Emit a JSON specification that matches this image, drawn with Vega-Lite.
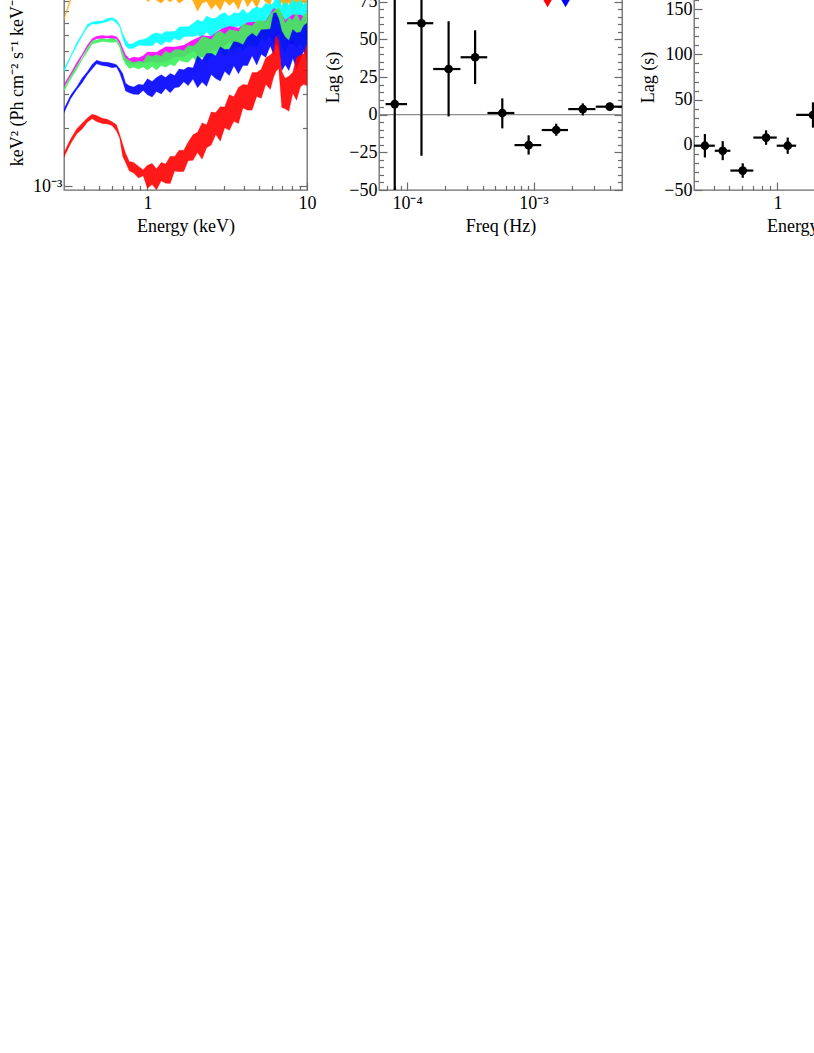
{
  "$schema": "https://vega.github.io/schema/vega-lite/v6.json",
  "background": "white",
  "padding": {"left": 7, "top": -38, "right": -125, "bottom": 5},
  "spacing": 72,
  "bounds": "flush",
  "config": {
    "font": "Liberation Serif",
    "view": {"stroke": "#6b6b6b", "strokeWidth": 1.3},
    "axis": {"domain": false, "grid": false, "labelFont": "Liberation Serif", "titleFont": "Liberation Serif", "labelFontSize": 18, "titleFontSize": 18, "titleFontWeight": "normal", "labelColor": "#000000", "titleColor": "#000000", "tickColor": "#6b6b6b", "tickWidth": 1.2}
  },
  "datasets": {
    "orange": [
      {"e":0.30,"lo":0.00721,"hi":0.00737},{"e":0.33,"lo":0.00903,"hi":0.00938},{"e":0.36,"lo":0.01065,"hi":0.01093},{"e":0.39,"lo":0.01196,"hi":0.01242},{"e":0.42,"lo":0.01317,"hi":0.01351},{"e":0.45,"lo":0.01378,"hi":0.01414},{"e":0.48,"lo":0.01411,"hi":0.01469},{"e":0.52,"lo":0.01442,"hi":0.01480},{"e":0.56,"lo":0.01453,"hi":0.01498},{"e":0.60,"lo":0.01485,"hi":0.01530},{"e":0.64,"lo":0.01431,"hi":0.01483},{"e":0.67,"lo":0.01341,"hi":0.01374},{"e":0.70,"lo":0.01191,"hi":0.01274},{"e":0.73,"lo":0.01102,"hi":0.01165},{"e":0.77,"lo":0.01018,"hi":0.01085},{"e":0.82,"lo":0.01015,"hi":0.01077},{"e":0.88,"lo":0.00993,"hi":0.01059},{"e":0.94,"lo":0.01009,"hi":0.01051},
      {"e":1.00,"lo":0.00898,"hi":0.01142},{"e":1.07,"lo":0.00925,"hi":0.01107},{"e":1.14,"lo":0.00913,"hi":0.01083},{"e":1.22,"lo":0.00880,"hi":0.01108},{"e":1.30,"lo":0.00928,"hi":0.01096},{"e":1.39,"lo":0.00892,"hi":0.01060},{"e":1.48,"lo":0.00940,"hi":0.01120},{"e":1.58,"lo":0.00880,"hi":0.01084},{"e":1.69,"lo":0.00916,"hi":0.01072},{"e":1.80,"lo":0.00952,"hi":0.01108},{"e":1.93,"lo":0.00904,"hi":0.01120},
      {"e":2.06,"lo":0.00800,"hi":0.01100},{"e":2.20,"lo":0.00880,"hi":0.01160},{"e":2.35,"lo":0.00900,"hi":0.01120},{"e":2.51,"lo":0.00820,"hi":0.01200},{"e":2.68,"lo":0.00869,"hi":0.01091},{"e":2.86,"lo":0.00808,"hi":0.01172},{"e":3.05,"lo":0.00909,"hi":0.01192},{"e":3.26,"lo":0.00857,"hi":0.01142},{"e":3.48,"lo":0.00898,"hi":0.01224},{"e":3.72,"lo":0.00816,"hi":0.01163},{"e":3.97,"lo":0.00948,"hi":0.01133},{"e":4.24,"lo":0.00845,"hi":0.01195},{"e":4.53,"lo":0.00915,"hi":0.01248},{"e":4.84,"lo":0.00832,"hi":0.01144},{"e":5.17,"lo":0.00945,"hi":0.01239},{"e":5.52,"lo":0.00890,"hi":0.01187},{"e":5.89,"lo":0.00864,"hi":0.01296},
      {"e":6.16,"lo":0.01004,"hi":0.01324},{"e":6.40,"lo":0.01006,"hi":0.01518},{"e":6.65,"lo":0.00844,"hi":0.01288},{"e":6.95,"lo":0.00895,"hi":0.01280},{"e":7.30,"lo":0.00789,"hi":0.01298},{"e":7.70,"lo":0.00896,"hi":0.01191},{"e":8.15,"lo":0.00762,"hi":0.01271},{"e":8.60,"lo":0.00843,"hi":0.01164},{"e":9.10,"lo":0.00816,"hi":0.01298},{"e":9.55,"lo":0.00896,"hi":0.01217},{"e":10.0,"lo":0.00762,"hi":0.01244}
    ],
    "cyan": [
      {"e":0.30,"lo":0.003899,"hi":0.004049},{"e":0.33,"lo":0.004604,"hi":0.004706},{"e":0.36,"lo":0.005292,"hi":0.005497},{"e":0.39,"lo":0.005965,"hi":0.006111},{"e":0.42,"lo":0.006593,"hi":0.006834},{"e":0.45,"lo":0.006881,"hi":0.007047},{"e":0.48,"lo":0.006860,"hi":0.007112},{"e":0.52,"lo":0.006965,"hi":0.007121},{"e":0.56,"lo":0.007070,"hi":0.007344},{"e":0.60,"lo":0.007227,"hi":0.007418},{"e":0.64,"lo":0.006958,"hi":0.007228},{"e":0.67,"lo":0.006633,"hi":0.006807},{"e":0.70,"lo":0.005808,"hi":0.006120},{"e":0.73,"lo":0.005280,"hi":0.005720},{"e":0.77,"lo":0.005124,"hi":0.005397},{"e":0.82,"lo":0.005157,"hi":0.005478},{"e":0.88,"lo":0.005341,"hi":0.005668},{"e":0.94,"lo":0.005328,"hi":0.005728},
      {"e":1.00,"lo":0.005305,"hi":0.005845},{"e":1.07,"lo":0.005316,"hi":0.006089},{"e":1.14,"lo":0.005556,"hi":0.006199},{"e":1.22,"lo":0.005336,"hi":0.006078},{"e":1.30,"lo":0.005588,"hi":0.006293},{"e":1.39,"lo":0.005522,"hi":0.006283},{"e":1.48,"lo":0.005808,"hi":0.006292},{"e":1.58,"lo":0.005658,"hi":0.006642},{"e":1.69,"lo":0.005900,"hi":0.006650},{"e":1.80,"lo":0.005944,"hi":0.006655},{"e":1.93,"lo":0.005934,"hi":0.006914},
      {"e":2.06,"lo":0.006039,"hi":0.007231},{"e":2.20,"lo":0.005845,"hi":0.007050},{"e":2.35,"lo":0.006265,"hi":0.007571},{"e":2.51,"lo":0.005881,"hi":0.007375},{"e":2.68,"lo":0.006208,"hi":0.007363},{"e":2.86,"lo":0.006541,"hi":0.007707},{"e":3.05,"lo":0.006245,"hi":0.007876},{"e":3.26,"lo":0.006134,"hi":0.007508},{"e":3.48,"lo":0.006565,"hi":0.007860},{"e":3.72,"lo":0.006732,"hi":0.007762},{"e":3.97,"lo":0.006428,"hi":0.008226},{"e":4.24,"lo":0.006690,"hi":0.007743},{"e":4.53,"lo":0.006482,"hi":0.008225},{"e":4.84,"lo":0.007059,"hi":0.008433},{"e":5.17,"lo":0.006863,"hi":0.008257},{"e":5.52,"lo":0.007173,"hi":0.008791},{"e":5.89,"lo":0.006890,"hi":0.008641},
      {"e":6.16,"lo":0.007517,"hi":0.008829},{"e":6.40,"lo":0.007123,"hi":0.009724},{"e":6.65,"lo":0.007314,"hi":0.009676},{"e":6.95,"lo":0.006396,"hi":0.008502},{"e":7.30,"lo":0.007007,"hi":0.008947},{"e":7.70,"lo":0.006634,"hi":0.008587},{"e":8.15,"lo":0.006396,"hi":0.009204},{"e":8.60,"lo":0.007285,"hi":0.008839},{"e":9.10,"lo":0.006905,"hi":0.009180},{"e":9.55,"lo":0.006494,"hi":0.008633},{"e":10.0,"lo":0.007092,"hi":0.009095}
    ],
    "magenta": [
      {"e":0.30,"lo":0.003267,"hi":0.003359},{"e":0.33,"lo":0.003710,"hi":0.003815},{"e":0.36,"lo":0.004175,"hi":0.004345},{"e":0.39,"lo":0.004692,"hi":0.004796},{"e":0.42,"lo":0.005177,"hi":0.005345},{"e":0.45,"lo":0.005606,"hi":0.005777},{"e":0.48,"lo":0.005780,"hi":0.005944},{"e":0.52,"lo":0.005784,"hi":0.006008},{"e":0.56,"lo":0.005831,"hi":0.005961},{"e":0.60,"lo":0.005772,"hi":0.005996},{"e":0.64,"lo":0.005768,"hi":0.005909},{"e":0.67,"lo":0.005432,"hi":0.005630},{"e":0.70,"lo":0.004888,"hi":0.005158},{"e":0.73,"lo":0.004393,"hi":0.004766},{"e":0.77,"lo":0.004330,"hi":0.004550},{"e":0.82,"lo":0.004270,"hi":0.004650},{"e":0.88,"lo":0.004339,"hi":0.004601},{"e":0.94,"lo":0.004326,"hi":0.004713},
      {"e":1.00,"lo":0.004393,"hi":0.004931},{"e":1.14,"lo":0.004362,"hi":0.004912},{"e":1.30,"lo":0.004377,"hi":0.005243},{"e":1.48,"lo":0.004664,"hi":0.005241},{"e":1.69,"lo":0.004659,"hi":0.005344},{"e":1.93,"lo":0.004985,"hi":0.005690},{"e":2.20,"lo":0.004627,"hi":0.005983},{"e":2.51,"lo":0.005006,"hi":0.005939},{"e":2.86,"lo":0.005079,"hi":0.006441},{"e":3.26,"lo":0.005551,"hi":0.006703},{"e":3.72,"lo":0.005203,"hi":0.006558},{"e":4.24,"lo":0.005698,"hi":0.007004},{"e":4.84,"lo":0.005611,"hi":0.007049},{"e":5.52,"lo":0.006185,"hi":0.007116},{"e":6.16,"lo":0.005740,"hi":0.008260},{"e":6.65,"lo":0.006205,"hi":0.008122},{"e":7.30,"lo":0.005564,"hi":0.007202},{"e":8.15,"lo":0.005412,"hi":0.007669},{"e":9.10,"lo":0.005976,"hi":0.007665},{"e":10.0,"lo":0.005698,"hi":0.007412}
    ],
    "green": [
      {"e":0.30,"lo":0.003097,"hi":0.003207},{"e":0.33,"lo":0.003566,"hi":0.003711},{"e":0.36,"lo":0.003998,"hi":0.004172},{"e":0.39,"lo":0.004505,"hi":0.004607},{"e":0.42,"lo":0.004936,"hi":0.005151},{"e":0.45,"lo":0.005418,"hi":0.005638},{"e":0.48,"lo":0.005480,"hi":0.005690},{"e":0.52,"lo":0.005589,"hi":0.005787},{"e":0.56,"lo":0.005547,"hi":0.005745},{"e":0.60,"lo":0.005519,"hi":0.005802},{"e":0.64,"lo":0.005564,"hi":0.005718},{"e":0.67,"lo":0.005207,"hi":0.005419},{"e":0.70,"lo":0.004560,"hi":0.004920},{"e":0.73,"lo":0.004268,"hi":0.004576},{"e":0.77,"lo":0.004059,"hi":0.004463},{"e":0.82,"lo":0.004115,"hi":0.004347},{"e":0.88,"lo":0.004028,"hi":0.004431},{"e":0.94,"lo":0.004130,"hi":0.004387},
      {"e":1.00,"lo":0.003984,"hi":0.004763},{"e":1.07,"lo":0.004152,"hi":0.004676},{"e":1.14,"lo":0.003978,"hi":0.004774},{"e":1.22,"lo":0.004202,"hi":0.004694},{"e":1.30,"lo":0.004113,"hi":0.004972},{"e":1.39,"lo":0.004259,"hi":0.004855},{"e":1.48,"lo":0.004176,"hi":0.005058},{"e":1.58,"lo":0.004465,"hi":0.005076},{"e":1.69,"lo":0.004388,"hi":0.005009},{"e":1.80,"lo":0.004365,"hi":0.005335},{"e":1.93,"lo":0.004634,"hi":0.005275},
      {"e":2.06,"lo":0.004297,"hi":0.005502},{"e":2.20,"lo":0.004692,"hi":0.005916},{"e":2.35,"lo":0.004360,"hi":0.005854},{"e":2.51,"lo":0.004689,"hi":0.005702},{"e":2.68,"lo":0.004683,"hi":0.006143},{"e":2.86,"lo":0.005111,"hi":0.006334},{"e":3.05,"lo":0.004662,"hi":0.006083},{"e":3.26,"lo":0.005099,"hi":0.006452},{"e":3.48,"lo":0.004905,"hi":0.006372},{"e":3.72,"lo":0.005354,"hi":0.006286},{"e":3.97,"lo":0.004973,"hi":0.006867},{"e":4.24,"lo":0.005346,"hi":0.006791},{"e":4.53,"lo":0.005345,"hi":0.006718},{"e":4.84,"lo":0.005250,"hi":0.007150},{"e":5.17,"lo":0.005768,"hi":0.007197},{"e":5.52,"lo":0.005581,"hi":0.007042},{"e":5.89,"lo":0.006146,"hi":0.007749},
      {"e":6.16,"lo":0.005382,"hi":0.007963},{"e":6.40,"lo":0.006176,"hi":0.008264},{"e":6.65,"lo":0.006338,"hi":0.008326},{"e":6.95,"lo":0.005274,"hi":0.007808},{"e":7.30,"lo":0.004875,"hi":0.006938},{"e":7.70,"lo":0.005468,"hi":0.007409},{"e":8.15,"lo":0.005678,"hi":0.007222},{"e":8.60,"lo":0.005173,"hi":0.007869},{"e":9.10,"lo":0.005499,"hi":0.007072},{"e":9.55,"lo":0.005109,"hi":0.007703},{"e":10.0,"lo":0.005874,"hi":0.007907}
    ],
    "blue": [
      {"e":0.30,"lo":0.002396,"hi":0.002507},{"e":0.33,"lo":0.002828,"hi":0.002949},{"e":0.36,"lo":0.003152,"hi":0.003258},{"e":0.39,"lo":0.003425,"hi":0.003626},{"e":0.42,"lo":0.003769,"hi":0.003896},{"e":0.45,"lo":0.004026,"hi":0.004250},{"e":0.48,"lo":0.004285,"hi":0.004467},{"e":0.52,"lo":0.004197,"hi":0.004377},{"e":0.56,"lo":0.004164,"hi":0.004367},{"e":0.60,"lo":0.004093,"hi":0.004309},{"e":0.64,"lo":0.004130,"hi":0.004243},{"e":0.67,"lo":0.003843,"hi":0.004045},{"e":0.70,"lo":0.003470,"hi":0.003816},{"e":0.73,"lo":0.003102,"hi":0.003399},{"e":0.77,"lo":0.003036,"hi":0.003299},{"e":0.82,"lo":0.002989,"hi":0.003253},{"e":0.88,"lo":0.002980,"hi":0.003360},{"e":0.94,"lo":0.003123,"hi":0.003334},
      {"e":1.00,"lo":0.002968,"hi":0.003590},{"e":1.07,"lo":0.002886,"hi":0.003477},{"e":1.14,"lo":0.003081,"hi":0.003639},{"e":1.22,"lo":0.002997,"hi":0.003763},{"e":1.30,"lo":0.003196,"hi":0.003645},{"e":1.39,"lo":0.003036,"hi":0.003823},{"e":1.48,"lo":0.003224,"hi":0.003731},{"e":1.58,"lo":0.003254,"hi":0.004032},{"e":1.69,"lo":0.003459,"hi":0.003989},{"e":1.80,"lo":0.003309,"hi":0.004121},{"e":1.93,"lo":0.003573,"hi":0.004081},
      {"e":2.06,"lo":0.003223,"hi":0.004716},{"e":2.20,"lo":0.003449,"hi":0.004491},{"e":2.35,"lo":0.003280,"hi":0.004838},{"e":2.51,"lo":0.003771,"hi":0.004860},{"e":2.68,"lo":0.003595,"hi":0.004708},{"e":2.86,"lo":0.003496,"hi":0.005244},{"e":3.05,"lo":0.003925,"hi":0.005084},{"e":3.26,"lo":0.003731,"hi":0.005096},{"e":3.48,"lo":0.004185,"hi":0.005580},{"e":3.72,"lo":0.003808,"hi":0.005522},{"e":3.97,"lo":0.004197,"hi":0.005368},{"e":4.24,"lo":0.004200,"hi":0.005900},{"e":4.53,"lo":0.004720,"hi":0.006156},{"e":4.84,"lo":0.004224,"hi":0.005914},{"e":5.17,"lo":0.004796,"hi":0.006431},{"e":5.52,"lo":0.004633,"hi":0.006441},{"e":5.89,"lo":0.005310,"hi":0.006490},
      {"e":6.16,"lo":0.004788,"hi":0.007812},{"e":6.40,"lo":0.005490,"hi":0.007870},{"e":6.65,"lo":0.005171,"hi":0.007322},{"e":6.95,"lo":0.003952,"hi":0.006323},{"e":7.30,"lo":0.004237,"hi":0.005900},{"e":7.70,"lo":0.003959,"hi":0.005656},{"e":8.15,"lo":0.004576,"hi":0.006448},{"e":8.60,"lo":0.004028,"hi":0.006190},{"e":9.10,"lo":0.004534,"hi":0.006235},{"e":9.55,"lo":0.005017,"hi":0.006749},{"e":10.0,"lo":0.004525,"hi":0.006944}
    ],
    "red": [
      {"e":0.30,"lo":0.001415,"hi":0.001496},{"e":0.33,"lo":0.001658,"hi":0.001754},{"e":0.36,"lo":0.001862,"hi":0.001976},{"e":0.39,"lo":0.001978,"hi":0.002118},{"e":0.42,"lo":0.002138,"hi":0.002253},{"e":0.45,"lo":0.002234,"hi":0.002352},{"e":0.48,"lo":0.002159,"hi":0.002319},{"e":0.52,"lo":0.002112,"hi":0.002244},{"e":0.56,"lo":0.002098,"hi":0.002219},{"e":0.60,"lo":0.002058,"hi":0.002150},{"e":0.64,"lo":0.001928,"hi":0.002080},{"e":0.67,"lo":0.001769,"hi":0.001849},{"e":0.70,"lo":0.001426,"hi":0.001649},{"e":0.73,"lo":0.001325,"hi":0.001479},{"e":0.77,"lo":0.001198,"hi":0.001341},{"e":0.82,"lo":0.001171,"hi":0.001328},{"e":0.88,"lo":0.001104,"hi":0.001267},{"e":0.94,"lo":0.001133,"hi":0.001217},
      {"e":1.00,"lo":0.000976,"hi":0.001286},{"e":1.07,"lo":0.001021,"hi":0.001311},{"e":1.14,"lo":0.000958,"hi":0.001231},{"e":1.22,"lo":0.001067,"hi":0.001327},{"e":1.30,"lo":0.001038,"hi":0.001304},{"e":1.39,"lo":0.001033,"hi":0.001427},{"e":1.48,"lo":0.001198,"hi":0.001423},{"e":1.58,"lo":0.001190,"hi":0.001533},{"e":1.69,"lo":0.001193,"hi":0.001534},{"e":1.80,"lo":0.001356,"hi":0.001692},{"e":1.93,"lo":0.001361,"hi":0.001844},
      {"e":2.06,"lo":0.001495,"hi":0.001902},{"e":2.20,"lo":0.001381,"hi":0.002120},{"e":2.35,"lo":0.001582,"hi":0.002076},{"e":2.51,"lo":0.001632,"hi":0.002416},{"e":2.68,"lo":0.001851,"hi":0.002400},{"e":2.86,"lo":0.001708,"hi":0.002575},{"e":3.05,"lo":0.002005,"hi":0.002564},{"e":3.26,"lo":0.001949,"hi":0.002965},{"e":3.48,"lo":0.002166,"hi":0.002898},{"e":3.72,"lo":0.002106,"hi":0.003235},{"e":3.97,"lo":0.002537,"hi":0.003352},{"e":4.24,"lo":0.002472,"hi":0.003330},{"e":4.53,"lo":0.002473,"hi":0.003867},{"e":4.84,"lo":0.002908,"hi":0.003866},{"e":5.17,"lo":0.002847,"hi":0.004019},{"e":5.52,"lo":0.003364,"hi":0.004612},{"e":5.89,"lo":0.003159,"hi":0.004763},
      {"e":6.16,"lo":0.003630,"hi":0.004950},{"e":6.40,"lo":0.003920,"hi":0.006000},{"e":6.65,"lo":0.004050,"hi":0.005630},{"e":6.95,"lo":0.002550,"hi":0.003910},{"e":7.30,"lo":0.002510,"hi":0.003610},{"e":7.70,"lo":0.002440,"hi":0.003700},{"e":8.15,"lo":0.003020,"hi":0.003880},{"e":8.60,"lo":0.002780,"hi":0.004630},{"e":9.10,"lo":0.003260,"hi":0.004740},{"e":9.55,"lo":0.003360,"hi":0.004830},{"e":10.0,"lo":0.003300,"hi":0.005390}
    ],
    "lagf": [
      {"f":0.0000799,"f0":0.0000676,"f1":0.0001,"lag":7,"lo":-140,"hi":150},
      {"f":0.000130,"f0":0.0001,"f1":0.000161,"lag":60.7,"lo":-27.3,"hi":148},
      {"f":0.000213,"f0":0.000161,"f1":0.000264,"lag":30.3,"lo":-1.2,"hi":62},
      {"f":0.000345,"f0":0.000265,"f1":0.000430,"lag":38.1,"lo":20.3,"hi":56},
      {"f":0.000566,"f0":0.000432,"f1":0.000705,"lag":1.1,"lo":-9.1,"hi":10.8},
      {"f":0.000914,"f0":0.000707,"f1":0.00115,"lag":-20.2,"lo":-26.5,"hi":-13.7},
      {"f":0.00151,"f0":0.00116,"f1":0.00187,"lag":-10.2,"lo":-14,"hi":-6},
      {"f":0.00245,"f0":0.00188,"f1":0.00308,"lag":3.7,"lo":-0.5,"hi":7.5},
      {"f":0.0040,"f0":0.0031,"f1":0.0050,"lag":5.3,"lo":3.5,"hi":7}
    ],
    "tri": [
      {"f":0.00129,"lag":73.7,"c":"red"},
      {"f":0.00179,"lag":73.7,"c":"blue"}
    ],
    "lage": [
      {"e":0.351,"e0":0.30,"e1":0.405,"lag":-1,"lo":-14,"hi":12},
      {"e":0.454,"e0":0.405,"e1":0.507,"lag":-6.6,"lo":-17,"hi":4},
      {"e":0.606,"e0":0.507,"e1":0.706,"lag":-28.5,"lo":-36.5,"hi":-20.5},
      {"e":0.849,"e0":0.706,"e1":0.99,"lag":8,"lo":0,"hi":16},
      {"e":1.16,"e0":0.99,"e1":1.31,"lag":-1,"lo":-10,"hi":8},
      {"e":1.67,"e0":1.31,"e1":2.1,"lag":33,"lo":19,"hi":47}
    ]
  },
  "hconcat": [
    {
      "width": 243, "height": 226,
      "resolve": {"axis": {"x": "independent", "y": "independent"}},
      "layer": [
        {
          "data": {"name": "orange"},
          "mark": {"type": "area", "clip": true, "color": "#ffa500", "fillOpacity": 0.9, "stroke": "#ffa500", "strokeWidth": 0.6, "strokeOpacity": 0.5},
          "encoding": {
            "x": {"field": "e", "type": "quantitative", "scale": {"type": "log", "domain": [0.3, 10], "nice": false},
                  "axis": {"orient": "bottom", "values": [1, 10], "tickSize": -8, "labelPadding": 12, "labelFlush": false, "labelExpr": "datum.value < 5 ? '1' : '10'", "title": "Energy (keV)", "titlePadding": 5}},
            "y": {"field": "lo", "type": "quantitative", "scale": {"type": "log", "domain": [0.000957, 0.01403], "nice": false},
                  "axis": {"orient": "left", "values": [0.001, 0.01], "tickSize": -8, "labelPadding": 10, "labelExpr": "datum.value < 0.005 ? '10⁻³' : '10⁻²'", "title": "keV² (Ph cm⁻² s⁻¹ keV⁻¹)", "titlePadding": 6}},
            "y2": {"field": "hi"}
          }
        },
        {
          "data": {"name": "cyan"},
          "mark": {"type": "area", "clip": true, "color": "#00ffff", "fillOpacity": 0.9, "stroke": "#00ffff", "strokeWidth": 0.6, "strokeOpacity": 0.5},
          "encoding": {
            "x": {"field": "e", "type": "quantitative", "scale": {"type": "log", "domain": [0.3, 10], "nice": false},
                  "axis": {"orient": "bottom", "values": [0.4, 0.5, 0.6, 0.7, 0.8, 0.9, 2, 3, 4, 5, 6, 7, 8, 9], "tickSize": -4.5, "labels": false, "title": null}},
            "y": {"field": "lo", "type": "quantitative", "scale": {"type": "log", "domain": [0.000957, 0.01403], "nice": false},
                  "axis": {"orient": "left", "values": [0.002, 0.003, 0.004, 0.005, 0.006, 0.007, 0.008, 0.009], "tickSize": -4.5, "labels": false, "title": null}},
            "y2": {"field": "hi"}
          }
        },
        {
          "data": {"name": "magenta"},
          "mark": {"type": "area", "clip": true, "color": "#ff00ff", "fillOpacity": 0.9, "stroke": "#ff00ff", "strokeWidth": 0.6, "strokeOpacity": 0.5},
          "encoding": {
            "x": {"field": "e", "type": "quantitative", "scale": {"type": "log", "domain": [0.3, 10], "nice": false}, "axis": null},
            "y": {"field": "lo", "type": "quantitative", "scale": {"type": "log", "domain": [0.000957, 0.01403], "nice": false},
                  "axis": {"orient": "right", "values": [0.001, 0.01], "tickSize": -8, "labels": false, "title": null}},
            "y2": {"field": "hi"}
          }
        },
        {
          "data": {"name": "green"},
          "mark": {"type": "area", "clip": true, "color": "#3cef5a", "fillOpacity": 0.9, "stroke": "#3cef5a", "strokeWidth": 0.6, "strokeOpacity": 0.5},
          "encoding": {
            "x": {"field": "e", "type": "quantitative", "scale": {"type": "log", "domain": [0.3, 10], "nice": false}, "axis": null},
            "y": {"field": "lo", "type": "quantitative", "scale": {"type": "log", "domain": [0.000957, 0.01403], "nice": false},
                  "axis": {"orient": "right", "values": [0.002, 0.003, 0.004, 0.005, 0.006, 0.007, 0.008, 0.009], "tickSize": -4.5, "labels": false, "title": null}},
            "y2": {"field": "hi"}
          }
        },
        {
          "data": {"name": "blue"},
          "mark": {"type": "area", "clip": true, "color": "#0000ff", "fillOpacity": 0.9, "stroke": "#0000ff", "strokeWidth": 0.6, "strokeOpacity": 0.5},
          "encoding": {
            "x": {"field": "e", "type": "quantitative", "scale": {"type": "log", "domain": [0.3, 10], "nice": false}, "axis": null},
            "y": {"field": "lo", "type": "quantitative", "scale": {"type": "log", "domain": [0.000957, 0.01403], "nice": false}, "axis": null},
            "y2": {"field": "hi"}
          }
        },
        {
          "data": {"name": "red"},
          "mark": {"type": "area", "clip": true, "color": "#ff0000", "fillOpacity": 0.9, "stroke": "#ff0000", "strokeWidth": 0.6, "strokeOpacity": 0.5},
          "encoding": {
            "x": {"field": "e", "type": "quantitative", "scale": {"type": "log", "domain": [0.3, 10], "nice": false}, "axis": null},
            "y": {"field": "lo", "type": "quantitative", "scale": {"type": "log", "domain": [0.000957, 0.01403], "nice": false}, "axis": null},
            "y2": {"field": "hi"}
          }
        }
      ]
    },
    {
      "width": 243, "height": 226,
      "resolve": {"axis": {"x": "independent", "y": "independent"}},
      "layer": [
        {
          "data": {"values": [{}]},
          "mark": {"type": "rule", "color": "#8c8c8c", "strokeWidth": 1.2},
          "encoding": {
            "y": {"datum": 0, "type": "quantitative", "scale": {"domain": [-50, 100], "nice": false}, "axis": null}
          }
        },
        {
          "data": {"name": "lagf"},
          "mark": {"type": "rule", "color": "#000000", "strokeWidth": 2.2, "clip": true},
          "encoding": {
            "x": {"field": "f0", "type": "quantitative", "scale": {"type": "log", "domain": [0.00006, 0.005], "nice": false},
                  "axis": {"orient": "bottom", "values": [0.0001, 0.001], "tickSize": -8, "labelPadding": 12, "labelFlush": false, "labelExpr": "datum.value < 0.0005 ? '10⁻⁴' : '10⁻³'", "title": "Freq (Hz)", "titlePadding": 5}},
            "x2": {"field": "f1"},
            "y": {"field": "lag", "type": "quantitative", "scale": {"domain": [-50, 100], "nice": false},
                  "axis": {"orient": "left", "values": [-50, -25, 0, 25, 50, 75], "tickSize": -8, "labelPadding": 10, "title": "Lag (s)", "titlePadding": 6}}
          }
        },
        {
          "data": {"name": "lagf"},
          "mark": {"type": "rule", "color": "#000000", "strokeWidth": 2.2, "clip": true},
          "encoding": {
            "x": {"field": "f", "type": "quantitative", "scale": {"type": "log", "domain": [0.00006, 0.005], "nice": false},
                  "axis": {"orient": "bottom", "values": [0.00007, 0.00008, 0.00009, 0.0002, 0.0003, 0.0004, 0.0005, 0.0006, 0.0007, 0.0008, 0.0009, 0.002, 0.003, 0.004], "tickSize": -4.5, "labels": false, "title": null}},
            "y": {"field": "lo", "type": "quantitative", "scale": {"domain": [-50, 100], "nice": false},
                  "axis": {"orient": "left", "values": [-45, -40, -35, -30, -20, -15, -10, -5, 5, 10, 15, 20, 30, 35, 40, 45, 55, 60, 65, 70, 80, 85, 90, 95], "tickSize": -4.5, "labels": false, "title": null}},
            "y2": {"field": "hi"}
          }
        },
        {
          "data": {"name": "lagf"},
          "mark": {"type": "point", "shape": "circle", "filled": true, "size": 75, "color": "#000000", "opacity": 1},
          "encoding": {
            "x": {"field": "f", "type": "quantitative", "scale": {"type": "log", "domain": [0.00006, 0.005], "nice": false}, "axis": null},
            "y": {"field": "lag", "type": "quantitative", "scale": {"domain": [-50, 100], "nice": false},
                  "axis": {"orient": "right", "values": [-50, -25, 0, 25, 50, 75, 100], "tickSize": -8, "labels": false, "title": null}}
          }
        },
        {
          "data": {"name": "tri"},
          "mark": {"type": "point", "shape": "triangle-down", "filled": true, "size": 70, "opacity": 1},
          "encoding": {
            "x": {"field": "f", "type": "quantitative", "scale": {"type": "log", "domain": [0.00006, 0.005], "nice": false}, "axis": null},
            "y": {"field": "lag", "type": "quantitative", "scale": {"domain": [-50, 100], "nice": false},
                  "axis": {"orient": "right", "values": [-45, -40, -35, -30, -20, -15, -10, -5, 5, 10, 15, 20, 30, 35, 40, 45, 55, 60, 65, 70, 80, 85, 90, 95], "tickSize": -4.5, "labels": false, "title": null}},
            "color": {"field": "c", "type": "nominal", "scale": {"domain": ["red", "blue"], "range": ["#ff0000", "#0000ff"]}, "legend": null}
          }
        }
      ]
    },
    {
      "width": 243, "height": 226,
      "resolve": {"axis": {"x": "independent", "y": "independent"}},
      "layer": [
        {
          "data": {"name": "lage"},
          "mark": {"type": "rule", "color": "#000000", "strokeWidth": 2.2, "clip": true},
          "encoding": {
            "x": {"field": "e0", "type": "quantitative", "scale": {"type": "log", "domain": [0.3, 10], "nice": false},
                  "axis": {"orient": "bottom", "values": [1, 10], "tickSize": -8, "labelPadding": 12, "labelFlush": false, "labelExpr": "datum.value < 5 ? '1' : '10'", "title": "Energy (keV)", "titlePadding": 5}},
            "x2": {"field": "e1"},
            "y": {"field": "lag", "type": "quantitative", "scale": {"domain": [-50, 200], "nice": false},
                  "axis": {"orient": "left", "values": [-50, 0, 50, 100, 150], "tickSize": -8, "labelPadding": 10, "title": "Lag (s)", "titlePadding": 6}}
          }
        },
        {
          "data": {"name": "lage"},
          "mark": {"type": "rule", "color": "#000000", "strokeWidth": 2.2, "clip": true},
          "encoding": {
            "x": {"field": "e", "type": "quantitative", "scale": {"type": "log", "domain": [0.3, 10], "nice": false},
                  "axis": {"orient": "bottom", "values": [0.4, 0.5, 0.6, 0.7, 0.8, 0.9, 2, 3, 4, 5, 6, 7, 8, 9], "tickSize": -4.5, "labels": false, "title": null}},
            "y": {"field": "lo", "type": "quantitative", "scale": {"domain": [-50, 200], "nice": false},
                  "axis": {"orient": "left", "values": [-40, -30, -20, -10, 10, 20, 30, 40, 60, 70, 80, 90, 110, 120, 130, 140, 160, 170, 180, 190], "tickSize": -4.5, "labels": false, "title": null}},
            "y2": {"field": "hi"}
          }
        },
        {
          "data": {"name": "lage"},
          "mark": {"type": "point", "shape": "circle", "filled": true, "size": 75, "color": "#000000", "opacity": 1},
          "encoding": {
            "x": {"field": "e", "type": "quantitative", "scale": {"type": "log", "domain": [0.3, 10], "nice": false}, "axis": null},
            "y": {"field": "lag", "type": "quantitative", "scale": {"domain": [-50, 200], "nice": false}, "axis": null}
          }
        }
      ]
    }
  ]
}
